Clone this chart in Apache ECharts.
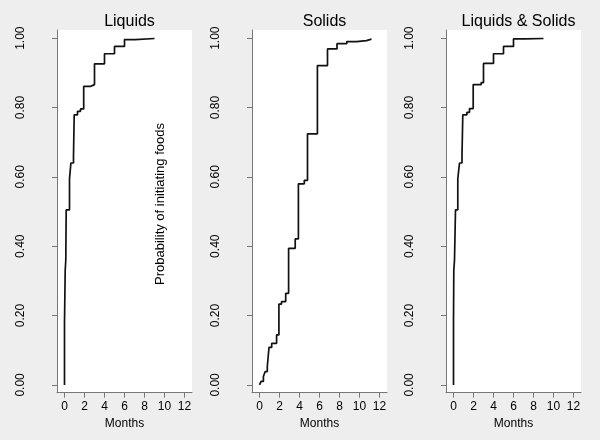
<!DOCTYPE html>
<html>
<head>
<meta charset="utf-8">
<script src="https://cdn.jsdelivr.net/npm/echarts@6/dist/echarts.min.js"></script>
<style>html,body{margin:0;padding:0;background:#eeeeee;}#c{width:600px;height:440px;}</style>
</head>
<body>
<div id="c"></div>
<script>
// ---- data ----
const panelTitles = ['Liquids', 'Solids', 'Liquids & Solids'];
const xTicks = [0, 2, 4, 6, 8, 10, 12];
const yTicks = [0, 0.2, 0.4, 0.6, 0.8, 1.0];
const xAxisTitle = 'Months';
const yAxisTitle = 'Probability of initiating foods';

const liquidsMonths = [0, 0, 0.07, 0.13, 0.17, 0.5, 0.64, 0.9, 0.97, 1.3, 1.6, 1.92, 2.64, 3.0, 4.0, 5.0, 6.0, 7.07, 9.0];
const liquidsProb   = [0, 0.18, 0.33, 0.36, 0.505, 0.594, 0.64, 0.661, 0.779, 0.789, 0.796, 0.861, 0.866, 0.926, 0.955, 0.976, 0.996, 0.999, 1.0];

const solidsMonths = [0, 0.16, 0.39, 0.56, 0.78, 0.95, 1.22, 1.71, 1.94, 2.2, 2.62, 2.91, 3.57, 3.89, 4.48, 4.8, 5.79, 6.8, 7.75, 8.73, 9.71, 10.69, 11.2];
const solidsProb   = [0, 0.01, 0.024, 0.038, 0.053, 0.108, 0.12, 0.144, 0.233, 0.24, 0.264, 0.394, 0.421, 0.58, 0.59, 0.724, 0.921, 0.969, 0.984, 0.99, 0.993, 0.997, 0.998];

const bothMonths = [0, 0, 0.03, 0.1, 0.2, 0.43, 0.6, 0.85, 0.93, 1.34, 1.6, 1.97, 2.77, 3.0, 4.0, 5.0, 6.0, 7.17, 9.0];
const bothProb   = [0, 0.18, 0.33, 0.36, 0.505, 0.594, 0.64, 0.661, 0.779, 0.786, 0.797, 0.866, 0.872, 0.927, 0.955, 0.976, 0.998, 0.999, 1.0];

// ---- chart ----
const panels = [
  {months: liquidsMonths, prob: liquidsProb},
  {months: solidsMonths, prob: solidsProb},
  {months: bothMonths, prob: bothProb}
];
const gridLefts = [57, 252, 446];
const gridWidth = 135;
const font = 'Liberation Sans, Arial, sans-serif';
const axisColor = '#777777';

const option = {
  backgroundColor: '#eeeeee',
  animation: false,
  title: panelTitles.map((t, i) => ({
    text: t,
    left: gridLefts[i] + gridWidth / 2,
    top: 9,
    textAlign: 'center',
    textStyle: {fontFamily: font, fontSize: 16, fontWeight: 'normal', color: '#000'}
  })),
  grid: gridLefts.map(l => ({
    left: l, top: 30, width: gridWidth, height: 362.7,
    show: true, backgroundColor: '#ffffff', borderWidth: 0
  })),
  xAxis: gridLefts.map((l, i) => ({
    type: 'value', gridIndex: i, min: -0.75, max: 12.75,
    name: xAxisTitle, nameLocation: 'middle', nameGap: 17,
    nameTextStyle: {fontFamily: font, fontSize: 12, color: '#000'},
    axisLine: {show: true, onZero: false, lineStyle: {color: axisColor, width: 1}},
    axisTick: {show: true, length: 5, customValues: xTicks, lineStyle: {color: axisColor}},
    axisLabel: {customValues: xTicks, margin: 8, fontFamily: font, fontSize: 12, color: '#000'},
    splitLine: {show: false}
  })),
  yAxis: gridLefts.map((l, i) => ({
    type: 'value', gridIndex: i, min: -0.0225, max: 1.0235,
    axisLine: {show: true, onZero: false, lineStyle: {color: axisColor, width: 1}},
    axisTick: {show: true, length: 5, customValues: yTicks, lineStyle: {color: axisColor}},
    axisLabel: {customValues: yTicks, rotate: 90, margin: 30, fontFamily: font, fontSize: 12, color: '#000',
      formatter: v => v.toFixed(2)},
    splitLine: {show: false}
  })),
  graphic: [{
    type: 'text', x: 160, y: 204, rotation: Math.PI / 2,
    style: {text: yAxisTitle, fontFamily: font, fontSize: 13, fill: '#000', align: 'center', verticalAlign: 'middle'}
  }],
  series: panels.map((p, i) => ({
    type: 'line', xAxisIndex: i, yAxisIndex: i, step: 'end', symbol: 'none',
    lineStyle: {color: '#111111', width: 1.7},
    data: p.months.map((m, k) => [m, p.prob[k]])
  }))
};
const chart = echarts.init(document.getElementById('c'), null, {renderer: 'canvas'});
chart.setOption(option);
</script>
</body>
</html>
